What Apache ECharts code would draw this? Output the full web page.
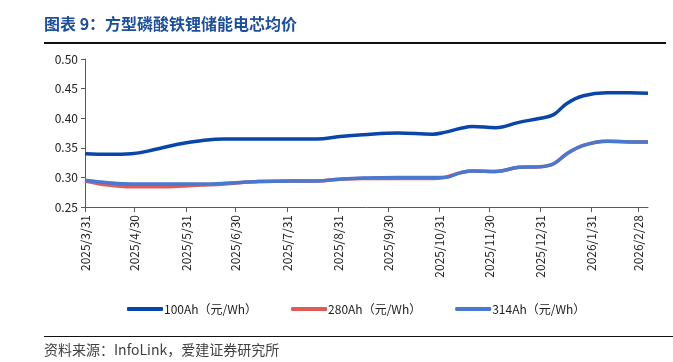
<!DOCTYPE html>
<html><head><meta charset="utf-8">
<script src="https://cdn.jsdelivr.net/npm/echarts@6/dist/echarts.min.js"></script>
<style>html,body{margin:0;padding:0;background:#fff;}#c{width:673px;height:362px;}</style>
</head><body><div id="c"></div>
<script>
var dates = ['2025-03-31','2025-04-14','2025-04-28','2025-05-12','2025-05-26','2025-06-09','2025-06-23','2025-07-14','2025-08-04','2025-08-18','2025-09-01','2025-09-15','2025-10-06','2025-10-27','2025-11-03','2025-11-13','2025-11-20','2025-12-04','2025-12-18','2025-12-31','2026-01-08','2026-01-16','2026-01-26','2026-02-09','2026-02-23','2026-03-06'];
var s100 = [0.340,0.339,0.340,0.347,0.356,0.362,0.365,0.365,0.365,0.365,0.369,0.372,0.375,0.373,0.376,0.383,0.386,0.384,0.393,0.400,0.406,0.425,0.438,0.443,0.443,0.442];
var s280 = [0.294,0.287,0.284,0.284,0.285,0.287,0.289,0.293,0.294,0.294,0.297,0.298,0.298,0.298,0.300,0.308,0.311,0.310,0.317,0.318,0.323,0.340,0.354,0.361,0.360,0.360];
var s314 = [0.295,0.291,0.289,0.289,0.289,0.289,0.290,0.293,0.294,0.294,0.297,0.299,0.300,0.300,0.300,0.308,0.311,0.310,0.317,0.318,0.323,0.340,0.354,0.361,0.360,0.360];
var tickLabels = ['2025/3/31','2025/4/30','2025/5/31','2025/6/30','2025/7/31','2025/8/31','2025/9/30','2025/10/31','2025/11/30','2025/12/31','2026/1/31','2026/2/28'];
var seriesNames = ['100Ah（元/Wh）','280Ah（元/Wh）','314Ah（元/Wh）'];

var DAY = 86400000;
function utc(s){var p=s.split(/[-\/]/).map(Number);return Date.UTC(p[0],p[1]-1,p[2]);}
var t0 = utc(dates[0]);
function dayOf(s){return Math.round((utc(s)-t0)/DAY);}
function fmt(v){var d=new Date(t0+Math.round(v)*DAY);return d.getUTCFullYear()+'/'+(d.getUTCMonth()+1)+'/'+d.getUTCDate();}
function pairs(arr){return dates.map(function(d,i){return [dayOf(d),arr[i]];});}
var tickVals = tickLabels.map(dayOf);
var font = 'Noto Sans CJK SC';
var chart = echarts.init(document.getElementById('c'));
chart.setOption({
  animation:false,
  textStyle:{fontFamily:font},
  grid:{left:85,right:25,top:59,bottom:155,containLabel:false},
  xAxis:{type:'value',min:0,max:dayOf(dates[dates.length-1]),
    axisLine:{lineStyle:{color:'#595959',width:1}},
    axisTick:{show:true,customValues:tickVals,length:5,lineStyle:{color:'#595959'}},
    axisLabel:{customValues:tickVals,rotate:90,formatter:function(v){return fmt(v);},color:'#222',fontSize:12,margin:8,fontFamily:font,showMinLabel:true,showMaxLabel:true},
    splitLine:{show:false}},
  yAxis:{type:'value',min:0.25,max:0.5,interval:0.05,
    axisLine:{show:true,lineStyle:{color:'#595959',width:1}},
    axisTick:{show:true,length:4,lineStyle:{color:'#595959'}},
    axisLabel:{formatter:function(v){return v.toFixed(2);},color:'#222',fontSize:12,margin:7,fontFamily:font},
    splitLine:{show:false}},
  legend:{bottom:47,left:127,padding:0,itemWidth:36,itemHeight:4,itemGap:34,icon:'roundRect',
    textStyle:{fontSize:12,color:'#222',fontFamily:font,padding:[0,0,0,-4]},
    data:seriesNames},
  graphic:[
    {type:'text',left:44,top:16,style:{text:'图表 9：方型磷酸铁锂储能电芯均价',font:'bold 16px "Noto Sans CJK SC"',fill:'#1c4f9c'}},
    {type:'rect',shape:{x:44,y:42,width:622,height:2},style:{fill:'#111'}},
    {type:'rect',shape:{x:44,y:336,width:629,height:1},style:{fill:'#111'}},
    {type:'text',left:44,top:343,style:{text:'资料来源：InfoLink，爱建证券研究所',font:'14px "Noto Sans CJK SC"',fill:'#404040'}}
  ],
  series:[
    {name:seriesNames[0],type:'line',data:pairs(s100),smooth:0.4,symbol:'none',lineStyle:{width:3.5,color:'#0a46a8'},itemStyle:{color:'#0a46a8'}},
    {name:seriesNames[1],type:'line',data:pairs(s280),smooth:0.4,symbol:'none',lineStyle:{width:3.5,color:'#e05a5a'},itemStyle:{color:'#e05a5a'}},
    {name:seriesNames[2],type:'line',data:pairs(s314),smooth:0.4,symbol:'none',lineStyle:{width:3.5,color:'#4a78cf'},itemStyle:{color:'#4a78cf'}}
  ]
});
</script></body></html>
